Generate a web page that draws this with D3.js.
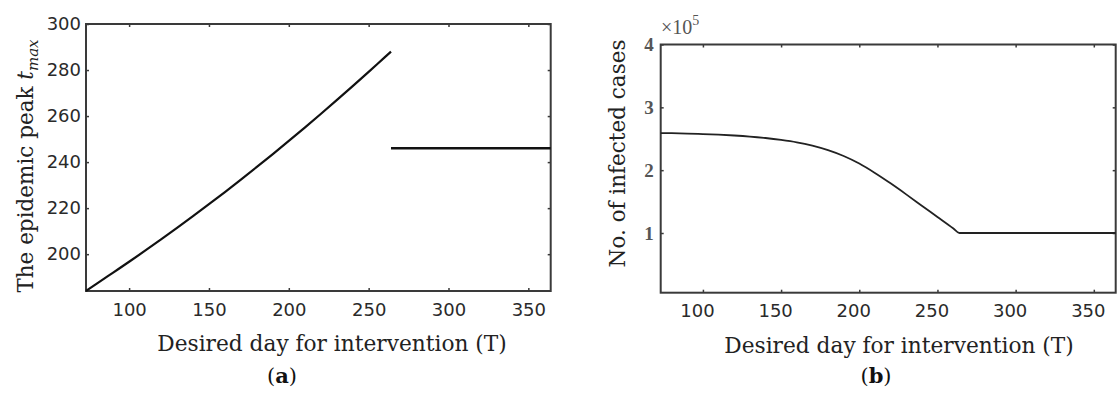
<!DOCTYPE html>
<html>
<head>
<meta charset="utf-8">
<script src="https://cdn.jsdelivr.net/npm/d3@7/dist/d3.min.js"></script>
<style>
  html, body { margin: 0; padding: 0; background: #fff; }
  svg { display: block; }
</style>
</head>
<body>
<svg id="chart" width="1120" height="405"></svg>
<script>
// ---------- data ----------
const xTicks = [100, 150, 200, 250, 300, 350];
const peakTicks = [200, 220, 240, 260, 280, 300];
const caseTicks = [1, 2, 3, 4];

// panel (a): epidemic peak day t_max vs desired intervention day T
const riseT    = [73, 80, 90, 100, 110, 120, 130, 140, 150, 160, 170, 180, 190, 200, 210, 220, 230, 240, 250, 260, 264];
const peakRise = [184, 187.3, 192.0, 196.7, 201.5, 206.4, 211.4, 216.5, 221.7, 227.0, 232.4, 237.9, 243.5, 249.2, 255.0, 260.9, 266.9, 273.0, 279.2, 285.5, 288.0];
const flatT    = [264, 364];
const peakFlat = [246, 246];

// panel (b): number of infected cases (x10^5) vs T
const casesT   = [73, 80, 90, 100, 110, 120, 130, 140, 150, 160, 170, 180, 190, 200, 210, 220, 230, 240, 250, 260, 264, 364];
const casesVal = [2.59, 2.588, 2.583, 2.575, 2.565, 2.552, 2.535, 2.512, 2.482, 2.444, 2.39, 2.318, 2.225, 2.105, 1.955, 1.79, 1.615, 1.435, 1.255, 1.075, 1.0, 1.0];

// ---------- drawing ----------
const svg = d3.select("#chart");
const axisColor = "#3a3a3a";
const tickFont = "'DejaVu Sans', sans-serif";
const serif = "'DejaVu Serif', serif";

function panel(opts) {
  const g = svg.append("g");
  const x = d3.scaleLinear().domain(opts.xDomain).range([opts.left, opts.right]);
  const y = d3.scaleLinear().domain(opts.yDomain).range([opts.bottom, opts.top]);

  g.append("g").attr("transform", `translate(0,${opts.top})`)
    .call(d3.axisTop(x).tickValues(xTicks).tickSizeInner(-3).tickSizeOuter(0).tickFormat(""))
    .call(s => s.select(".domain").remove());
  g.append("g").attr("transform", `translate(${opts.right},0)`)
    .call(d3.axisRight(y).tickValues(opts.yTicks).tickSizeInner(-3).tickSizeOuter(0).tickFormat(""))
    .call(s => s.select(".domain").remove());

  const xa = g.append("g").attr("transform", `translate(0,${opts.bottom})`)
    .call(d3.axisBottom(x).tickValues(xTicks).tickSizeInner(-3).tickSizeOuter(0).tickPadding(opts.xPad));
  xa.select(".domain").remove();
  xa.selectAll("text").attr("font-family", tickFont).attr("font-size", 18).attr("fill", "#2a2a2a")
    .attr("dx", opts.xLabelDx);

  const ya = g.append("g").attr("transform", `translate(${opts.left},0)`)
    .call(d3.axisLeft(y).tickValues(opts.yTicks).tickSizeInner(-3).tickSizeOuter(0).tickPadding(opts.yPad).tickFormat(opts.yFmt));
  ya.select(".domain").remove();
  ya.selectAll("text").attr("font-family", opts.yFont).attr("font-size", opts.ySize)
    .attr("font-weight", opts.yWeight).attr("fill", opts.yColor);

  g.selectAll(".tick line").attr("stroke", axisColor).attr("stroke-width", 1.5);

  g.append("rect")
    .attr("x", opts.left).attr("y", opts.top)
    .attr("width", opts.right - opts.left).attr("height", opts.bottom - opts.top)
    .attr("fill", "none").attr("stroke", axisColor).attr("stroke-width", 2);

  return { g, x, y };
}

// ----- panel (a)
const A = panel({
  left: 86, right: 550.7, top: 24, bottom: 291,
  xDomain: [73, 364], yDomain: [184, 300],
  yTicks: peakTicks, yFmt: d3.format("d"),
  xPad: 12, yPad: 5, xLabelDx: 0,
  yFont: tickFont, ySize: 18, yWeight: "normal", yColor: "#2a2a2a"
});
const lineA = d3.line().x(d => A.x(d[0])).y(d => A.y(d[1])).curve(d3.curveMonotoneX);
A.g.append("path").datum(d3.zip(riseT, peakRise)).attr("d", lineA)
  .attr("fill", "none").attr("stroke", "#111").attr("stroke-width", 2.2);
A.g.append("path").datum(d3.zip(flatT, peakFlat)).attr("d", lineA)
  .attr("fill", "none").attr("stroke", "#111").attr("stroke-width", 2.4);

const ta = svg.append("text")
  .attr("transform", "translate(33,166) rotate(-90)")
  .attr("text-anchor", "middle")
  .attr("font-family", serif).attr("font-size", 21.5).attr("fill", "#222");
ta.append("tspan").text("The epidemic peak ");
ta.append("tspan").attr("font-style", "italic").text("t");
ta.append("tspan").attr("font-style", "italic").attr("font-size", 15).attr("dy", 5).text("max");

svg.append("text").attr("x", 332).attr("y", 351).attr("text-anchor", "middle")
  .attr("font-family", serif).attr("font-size", 21.7).attr("fill", "#222")
  .text("Desired day for intervention (T)");

const capA = svg.append("text").attr("x", 282).attr("y", 383).attr("text-anchor", "middle")
  .attr("font-family", serif).attr("font-size", 21).attr("fill", "#111");
capA.append("tspan").text("(");
capA.append("tspan").attr("font-weight", "bold").text("a");
capA.append("tspan").text(")");

// ----- panel (b)
const B = panel({
  left: 660.7, right: 1115.7, top: 44.5, bottom: 292.7,
  xDomain: [73, 364], yDomain: [0.05, 4],
  yTicks: caseTicks, yFmt: d3.format("d"),
  xPad: 12, yPad: 7, xLabelDx: -6,
  yFont: "'Liberation Serif', serif", ySize: 19, yWeight: "bold", yColor: "#555"
});
const lineB = d3.line().x(d => B.x(d[0])).y(d => B.y(d[1])).curve(d3.curveMonotoneX);
B.g.append("path").datum(d3.zip(casesT, casesVal)).attr("d", lineB)
  .attr("fill", "none").attr("stroke", "#222").attr("stroke-width", 1.8);

const ex = svg.append("text").attr("x", 661).attr("y", 34)
  .attr("font-family", "'Liberation Serif', serif").attr("font-size", 20).attr("fill", "#555");
ex.append("tspan").text("\u00d710");
ex.append("tspan").attr("font-size", 14).attr("dy", -9).text("5");

svg.append("text")
  .attr("transform", "translate(625,153.5) rotate(-90)")
  .attr("text-anchor", "middle")
  .attr("font-family", serif).attr("font-size", 21.5).attr("fill", "#222")
  .text("No. of infected cases");

svg.append("text").attr("x", 899).attr("y", 353).attr("text-anchor", "middle")
  .attr("font-family", serif).attr("font-size", 21.7).attr("fill", "#222")
  .text("Desired day for intervention (T)");

const capB = svg.append("text").attr("x", 876).attr("y", 383).attr("text-anchor", "middle")
  .attr("font-family", serif).attr("font-size", 21).attr("fill", "#111");
capB.append("tspan").text("(");
capB.append("tspan").attr("font-weight", "bold").text("b");
capB.append("tspan").text(")");
</script>
</body>
</html>
